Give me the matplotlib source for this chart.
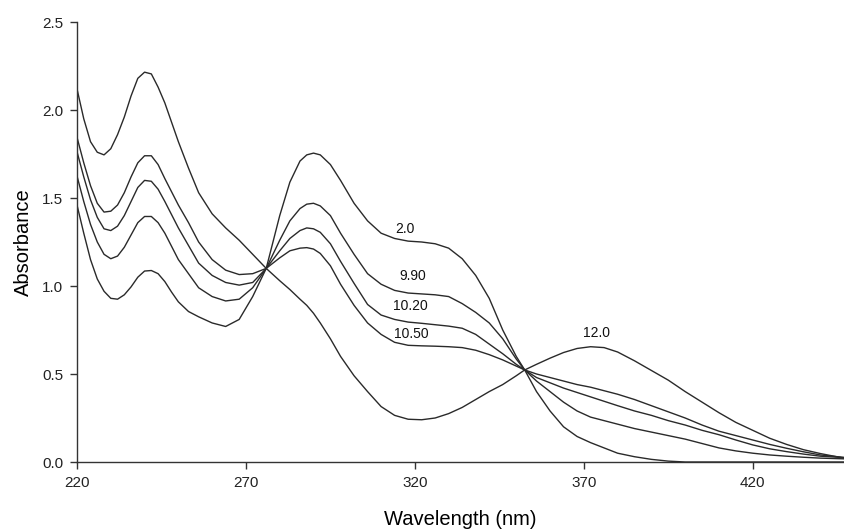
import matplotlib
matplotlib.use("Agg")
import matplotlib.pyplot as plt

plt.rcParams['font.family'] = ['Liberation Sans', 'DejaVu Sans']

# wavelength grid (nm) shared by all spectra
wavelength = [220, 222, 224, 226, 228, 230, 232, 234, 236, 238,
              240, 242, 244, 246, 248, 250, 253, 256, 260, 264,
              268, 272, 276, 280, 283, 286, 288, 290, 292, 295,
              298, 302, 306, 310, 314, 318, 322, 326, 330, 334,
              338, 342, 346, 350, 352.5, 356, 360, 364, 368, 372,
              376, 380, 385, 390, 395, 400, 405, 410, 415, 420,
              425, 430, 435, 440, 447]

# absorbance at each pH
abs_ph_2_0 = [1.46, 1.30, 1.15, 1.04, 0.97, 0.93, 0.925, 0.95, 0.995, 1.05,
              1.085, 1.088, 1.07, 1.025, 0.965, 0.91, 0.855, 0.825, 0.79, 0.77,
              0.81, 0.94, 1.10, 1.40, 1.59, 1.71, 1.745, 1.755, 1.745, 1.69,
              1.60, 1.47, 1.37, 1.30, 1.27, 1.255, 1.25, 1.24, 1.215, 1.155,
              1.06, 0.93, 0.75, 0.60, 0.523, 0.40, 0.29, 0.20, 0.145, 0.11,
              0.08, 0.05, 0.03, 0.015, 0.005, 0.0, 0.0, 0.0, 0.0, 0.0,
              0.0, 0.0, 0.0, 0.0, 0.0]

abs_ph_9_90 = [1.845, 1.70, 1.57, 1.47, 1.42, 1.425, 1.46, 1.53, 1.62, 1.70,
               1.74, 1.74, 1.69, 1.61, 1.535, 1.46, 1.36, 1.25, 1.15, 1.09,
               1.065, 1.07, 1.10, 1.26, 1.37, 1.44, 1.465, 1.47, 1.455, 1.40,
               1.30, 1.18, 1.07, 1.01, 0.975, 0.96, 0.955, 0.95, 0.94, 0.90,
               0.85, 0.79, 0.70, 0.585, 0.523, 0.46, 0.40, 0.34, 0.29, 0.255,
               0.235, 0.215, 0.19, 0.17, 0.15, 0.13, 0.105, 0.08, 0.063, 0.05,
               0.04, 0.033, 0.027, 0.022, 0.018]

abs_ph_10_20 = [1.763, 1.62, 1.49, 1.39, 1.325, 1.315, 1.34, 1.40, 1.48, 1.56,
                1.60, 1.595, 1.55, 1.48, 1.405, 1.33, 1.23, 1.13, 1.06, 1.02,
                1.005, 1.02, 1.10, 1.20, 1.27, 1.315, 1.33, 1.325, 1.305, 1.24,
                1.14, 1.015, 0.895, 0.835, 0.81, 0.795, 0.788, 0.78, 0.772, 0.76,
                0.725, 0.67, 0.615, 0.555, 0.523, 0.48, 0.45, 0.42, 0.395, 0.37,
                0.345, 0.32, 0.29, 0.265, 0.235, 0.21, 0.18, 0.155, 0.125, 0.097,
                0.075, 0.059, 0.045, 0.033, 0.025]

abs_ph_10_50 = [1.625, 1.48, 1.35, 1.25, 1.18, 1.155, 1.17, 1.22, 1.29, 1.36,
                1.395, 1.395, 1.36, 1.30, 1.225, 1.15, 1.07, 0.99, 0.94, 0.915,
                0.925, 0.99, 1.10, 1.16, 1.20, 1.215, 1.218, 1.21, 1.185, 1.115,
                1.01, 0.89, 0.79, 0.725, 0.68, 0.663, 0.66, 0.658, 0.655, 0.65,
                0.635, 0.61, 0.58, 0.545, 0.523, 0.50, 0.48, 0.46, 0.44, 0.425,
                0.405, 0.385, 0.355, 0.32, 0.285, 0.25, 0.21, 0.175, 0.15, 0.125,
                0.10, 0.078, 0.058, 0.04, 0.026]

abs_ph_12_0 = [2.12, 1.95, 1.82, 1.76, 1.745, 1.78, 1.86, 1.96, 2.08, 2.18,
               2.215, 2.205, 2.13, 2.04, 1.93, 1.82, 1.67, 1.53, 1.41, 1.33,
               1.26, 1.18, 1.10, 1.03, 0.98, 0.925, 0.89, 0.845, 0.79, 0.70,
               0.60, 0.49, 0.40, 0.315, 0.265, 0.243, 0.24, 0.25, 0.275, 0.31,
               0.355, 0.40, 0.44, 0.49, 0.523, 0.555, 0.59, 0.622, 0.645, 0.655,
               0.65, 0.625, 0.575, 0.52, 0.465, 0.40, 0.34, 0.28, 0.225, 0.18,
               0.135, 0.10, 0.07, 0.048, 0.022]

curve_labels = ['2.0', '9.90', '10.20', '10.50', '12.0']
label_x = [317, 319.5, 318.8, 318.8, 373.8]
label_y = [1.324, 1.057, 0.886, 0.727, 0.733]

spectra = [abs_ph_2_0, abs_ph_9_90, abs_ph_10_20, abs_ph_10_50, abs_ph_12_0]

fig = plt.figure(figsize=(8.44, 5.29), dpi=100)
ax = fig.add_axes([77 / 844, 1 - 462 / 529, 767 / 844, 440 / 529])

for spec in spectra:
    ax.plot(wavelength, spec, color='#2a2a2a', linewidth=1.0)

for txt, x, y in zip(curve_labels, label_x, label_y):
    ax.text(x, y, txt, fontsize=10, ha='center', va='center', color='#111111')

ax.set_xlim(220, 447)
ax.set_ylim(0, 2.5)
ax.set_xticks([220, 270, 320, 370, 420])
ax.set_yticks([0, 0.5, 1.0, 1.5, 2.0, 2.5])
ax.yaxis.set_major_formatter(matplotlib.ticker.FormatStrFormatter('%.1f'))

for side in ['top', 'right']:
    ax.spines[side].set_visible(False)
for side in ['left', 'bottom']:
    ax.spines[side].set_color('#333333')
    ax.spines[side].set_linewidth(1.0)

ax.tick_params(direction='out', length=5, width=1, colors='#333333',
               labelsize=11, labelcolor='#222222', pad=5)

ax.set_xlabel('Wavelength (nm)', fontsize=14.5)
ax.set_ylabel('Absorbance', fontsize=14.5)
ax.xaxis.set_label_coords(0.5, -0.11)
ax.yaxis.set_label_coords(-0.058, 0.5)

fig.savefig('out.png', dpi=100)
